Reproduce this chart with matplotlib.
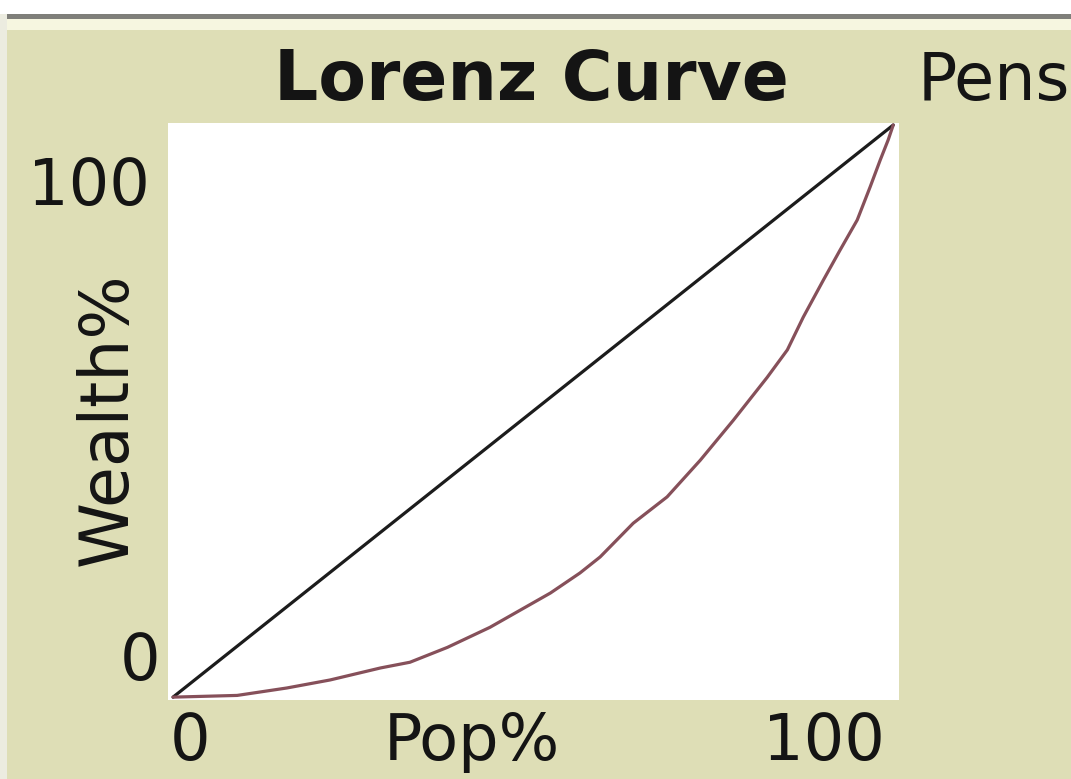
import matplotlib.pyplot as plt
from matplotlib.patches import Rectangle

# Lorenz curve values (population % -> wealth %)
pop_pct = [0, 8.9, 15.8, 21.8, 28.8, 32.9, 38.1, 44.0, 48.2, 52.4, 56.5, 59.3,
           63.9, 68.6, 73.2, 77.8, 82.5, 85.3, 87.5, 90.3, 92.6, 95.0, 96.8,
           98.2, 99.3, 100]
wealth_pct = [0, 0.3, 1.6, 3.0, 5.1, 6.1, 8.7, 12.2, 15.2, 18.2, 21.7, 24.5,
              30.4, 35.0, 41.4, 48.4, 55.9, 60.7, 66.4, 72.9, 78.1, 83.4, 89.2,
              93.9, 97.4, 100]
equal_line = [0, 100]

bg = "#dedeb6"
fig = plt.figure(figsize=(10.71, 7.79), dpi=100, facecolor=bg)

# window frame at the top / left
fig.patches.append(Rectangle((0, 1 - 14 / 779), 1, 14 / 779, transform=fig.transFigure,
                             facecolor="white", edgecolor="none"))
fig.patches.append(Rectangle((7 / 1071, 1 - 19 / 779), 1, 5 / 779, transform=fig.transFigure,
                             facecolor="#7f7f7a", edgecolor="none"))
fig.patches.append(Rectangle((7 / 1071, 1 - 30 / 779), 1, 11 / 779, transform=fig.transFigure,
                             facecolor="#f6f6e0", edgecolor="none"))
fig.patches.append(Rectangle((0, 0), 7 / 1071, 1 - 14 / 779, transform=fig.transFigure,
                             facecolor="#ecece0", edgecolor="none"))

ax = fig.add_axes([168 / 1071, 1 - 700 / 779, 731 / 1071, 577 / 779])
ax.set_facecolor("white")
for s in ax.spines.values():
    s.set_visible(False)
ax.set_xticks([])
ax.set_yticks([])
ax.set_xlim(-0.7, 100.8)
ax.set_ylim(-0.5, 100.35)

ax.plot(equal_line, equal_line, color="#1c1c1c", lw=2.3, solid_capstyle="round")
ax.plot(pop_pct, wealth_pct, color="#86505a", lw=2.3, solid_capstyle="round",
        solid_joinstyle="round")

fs = 46
tc = "#141414"
ax.text(0.003, -0.104, "0", transform=ax.transAxes, ha="left", va="baseline", fontsize=fs, color=tc)
ax.text(0.416, -0.104, "Pop%", transform=ax.transAxes, ha="center", va="baseline", fontsize=fs, color=tc)
ax.text(0.981, -0.104, "100", transform=ax.transAxes, ha="right", va="baseline", fontsize=fs, color=tc)
ax.text(-0.0246, 0.858, "100", transform=ax.transAxes, ha="right", va="baseline", fontsize=fs, color=tc)
ax.text(-0.011, 0.035, "0", transform=ax.transAxes, ha="right", va="baseline", fontsize=fs, color=tc)
ax.text(-0.083, 0.487, "Wealth%", transform=ax.transAxes, ha="center", va="center",
        rotation=90, fontsize=48, color=tc)

fig.text(531 / 1071, 1 - 100 / 779, "Lorenz Curve", ha="center", va="baseline",
         fontsize=50, fontweight="bold", color=tc)
fig.text(918 / 1071, 1 - 100 / 779, "Pens", ha="left", va="baseline", fontsize=47, color=tc)

fig.savefig("out.png", dpi=100, facecolor=bg)
